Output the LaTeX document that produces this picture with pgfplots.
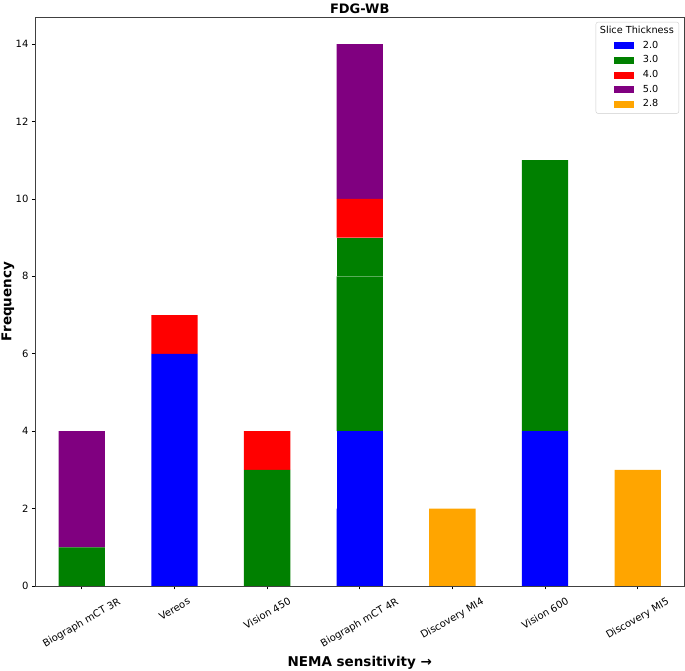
\documentclass[border=0pt]{standalone}
\usepackage{fontspec}
\setmainfont{DejaVu Sans}
\usepackage{graphicx}
\usepackage{pgfplots}
\pgfplotsset{compat=1.18}
\definecolor{cblue}{RGB}{0,0,255}
\definecolor{cgreen}{RGB}{0,128,0}
\definecolor{cred}{RGB}{255,0,0}
\definecolor{cpurple}{RGB}{128,0,128}
\definecolor{corange}{RGB}{255,165,0}
\newcommand\rl[1]{\rotatebox{30}{#1}}
\pgfplotsset{leg/.style={legend image code/.code={\path (0pt,0pt); \fill[#1, sharp corners] (15pt,-3.5pt) rectangle (35pt,3.5pt);}}}
\begin{document}
\begin{tikzpicture}
\useasboundingbox (-35.5pt,-85pt) rectangle (649.5pt,586pt);
\begin{axis}[
  scale only axis, width=648.5pt, height=569pt,
  ybar stacked, bar width=0.5,
  xmin=-0.5, xmax=6.5, ymin=0, ymax=14.7,
  enlargelimits=false,
  xtick={0,1,2,3,4,5,6},
  xticklabels={\rl{Biograph mCT 3R},\rl{Vereos},\rl{Vision 450},\rl{Biograph mCT 4R},\rl{Discovery MI4},\rl{Vision 600},\rl{Discovery MI5}},
  ytick={0,2,4,6,8,10,12,14},
  tick align=outside, major tick length=3.5pt,
  xtick pos=bottom, ytick pos=left,
  tick style={black, line width=0.8pt},
  axis line style={black!75, line width=0.8pt},
  x tick label style={anchor=north, yshift=-4pt, font=\fontsize{10}{12}\selectfont},
  y tick label style={font=\fontsize{10}{12}\selectfont},
  /pgf/number format/assume math mode=true,
  title={FDG-WB},
  every axis title shift=0pt,
  title style={at={(axis description cs:0.5,1)}, anchor=base, yshift=3.7pt, font=\fontsize{13}{15}\selectfont\bfseries},
  xlabel={NEMA sensitivity →},
  xlabel style={at={(axis description cs:0.5,0)}, anchor=base, yshift=-81pt, font=\fontsize{13.5}{16}\selectfont\bfseries},
  ylabel={Frequency},
  ylabel style={at={(axis description cs:0,0.5)}, anchor=base, yshift=24pt, font=\fontsize{13.5}{16}\selectfont\bfseries},
  legend cell align=left,
  legend style={at={(axis description cs:1,1)}, anchor=north east, xshift=-5pt, yshift=-5pt,
    draw=black!20, rounded corners=2pt, font=\fontsize{9.7}{11.5}\selectfont,
    row sep=2pt, column sep=7pt, inner xsep=3pt, inner ysep=2.5pt,
    nodes={inner sep=2pt, text height=6.8pt, text depth=1.9pt}},
]
\addlegendimage{empty legend}
\addlegendentry{\hspace*{-43pt}Slice Thickness}
\addplot[fill=cblue, draw=none, leg=cblue] coordinates {(0,0) (1,6) (2,0) (3,2) (4,0) (5,4) (6,0)};
\addlegendentry{2.0}
\addplot[fill=cblue, draw=none, forget plot] coordinates {(0,0) (1,0) (2,0) (3,2) (4,0) (5,0) (6,0)};
\addplot[fill=cgreen, draw=none, leg=cgreen] coordinates {(0,1) (1,0) (2,3) (3,4) (4,0) (5,7) (6,0)};
\addlegendentry{3.0}
\addplot[fill=cgreen, draw=none, forget plot] coordinates {(0,0) (1,0) (2,0) (3,1) (4,0) (5,0) (6,0)};
\addplot[fill=cred, draw=none, leg=cred] coordinates {(0,0) (1,1) (2,1) (3,1) (4,0) (5,0) (6,0)};
\addlegendentry{4.0}
\addplot[fill=cpurple, draw=none, leg=cpurple] coordinates {(0,3) (1,0) (2,0) (3,4) (4,0) (5,0) (6,0)};
\addlegendentry{5.0}
\addplot[fill=corange, draw=none, leg=corange] coordinates {(0,0) (1,0) (2,0) (3,0) (4,2) (5,0) (6,3)};
\addlegendentry{2.8}
\end{axis}
\end{tikzpicture}
\end{document}
